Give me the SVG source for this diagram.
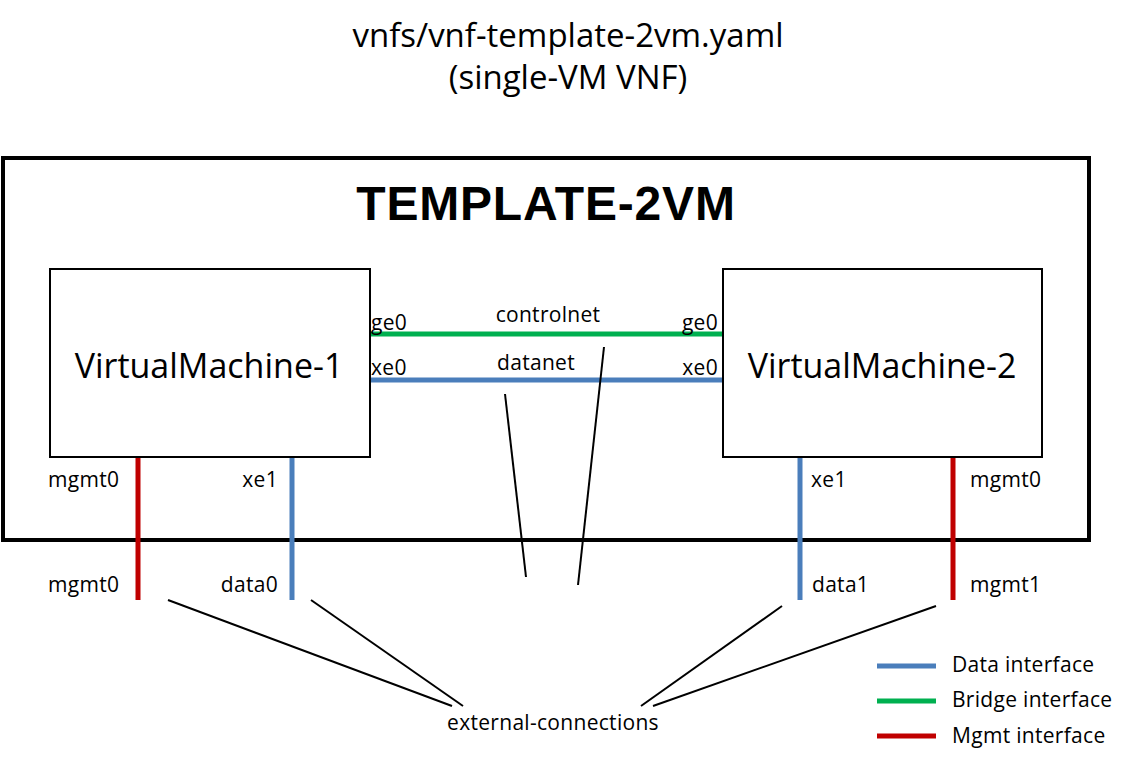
<svg xmlns="http://www.w3.org/2000/svg" width="1136" height="766" viewBox="0 0 1136 766">
<style>
text{font-family:"Open Sans","Liberation Sans",Arial,sans-serif;fill:#000}
.t{font-size:33px}
.big{font-family:"Liberation Sans",Arial,sans-serif;font-size:48px;font-weight:bold}
.vm{font-size:34px}
.l{font-size:21px;letter-spacing:0.3px}
.box{fill:#fff;stroke:#000;stroke-width:2}
.blue{stroke:#4a7ebb;stroke-width:5}
.green{stroke:#00b050;stroke-width:5}
.red{stroke:#c00000;stroke-width:5}
.k{stroke:#000;stroke-width:2}
</style>
<rect width="1136" height="766" fill="#fff"/>
<text class="t" x="568" y="47" text-anchor="middle">vnfs/vnf-template-2vm.yaml</text>
<text class="t" x="568" y="89" text-anchor="middle">(single-VM VNF)</text>
<g id="template-2vm">
<rect x="3" y="158" width="1086" height="382" fill="none" stroke="#000" stroke-width="4"/>
<text class="big" x="546" y="220" text-anchor="middle" letter-spacing="0.8">TEMPLATE-2VM</text>
</g>
<g id="vm1">
<rect class="box" x="50" y="269" width="320" height="188"/>
<text class="vm" x="209" y="378" text-anchor="middle">VirtualMachine-1</text>
</g>
<g id="vm2">
<rect class="box" x="723" y="269" width="319" height="188"/>
<text class="vm" x="882" y="378" text-anchor="middle">VirtualMachine-2</text>
</g>
<g id="connectors">
<line class="green" x1="371" y1="334" x2="722" y2="334"/>
<line class="blue" x1="371" y1="380" x2="722" y2="380"/>
<line class="red" x1="138" y1="458" x2="138" y2="600"/>
<line class="blue" x1="292" y1="458" x2="292" y2="600"/>
<line class="blue" x1="800" y1="458" x2="800" y2="600"/>
<line class="red" x1="953" y1="458" x2="953" y2="600"/>
<line class="k" x1="505" y1="394" x2="526" y2="577"/>
<line class="k" x1="604" y1="347" x2="578" y2="585"/>
<line class="k" x1="168" y1="600" x2="452" y2="706"/>
<line class="k" x1="311" y1="600" x2="463" y2="706"/>
<line class="k" x1="782" y1="606" x2="641" y2="706"/>
<line class="k" x1="936" y1="606" x2="653" y2="706"/>
</g>
<g id="labels">
<text class="l" x="371" y="330">ge0</text>
<text class="l" x="548" y="322" text-anchor="middle">controlnet</text>
<text class="l" x="718" y="330" text-anchor="end">ge0</text>
<text class="l" x="371" y="375">xe0</text>
<text class="l" x="536" y="370" text-anchor="middle">datanet</text>
<text class="l" x="718" y="375" text-anchor="end">xe0</text>
<text class="l" x="48" y="487">mgmt0</text>
<text class="l" x="278" y="487" text-anchor="end">xe1</text>
<text class="l" x="48" y="592">mgmt0</text>
<text class="l" x="278" y="592" text-anchor="end">data0</text>
<text class="l" x="811" y="487">xe1</text>
<text class="l" x="970" y="487">mgmt0</text>
<text class="l" x="812" y="592">data1</text>
<text class="l" x="970" y="592">mgmt1</text>
<text class="l" x="553" y="730" text-anchor="middle">external-connections</text>
</g>
<g id="legend">
<line class="blue" x1="877" y1="666" x2="936" y2="666"/>
<line class="green" x1="877" y1="701" x2="936" y2="701"/>
<line class="red" x1="877" y1="736" x2="936" y2="736"/>
<text class="l" x="952" y="672">Data interface</text>
<text class="l" x="952" y="707">Bridge interface</text>
<text class="l" x="952" y="743">Mgmt interface</text>
</g>
</svg>
